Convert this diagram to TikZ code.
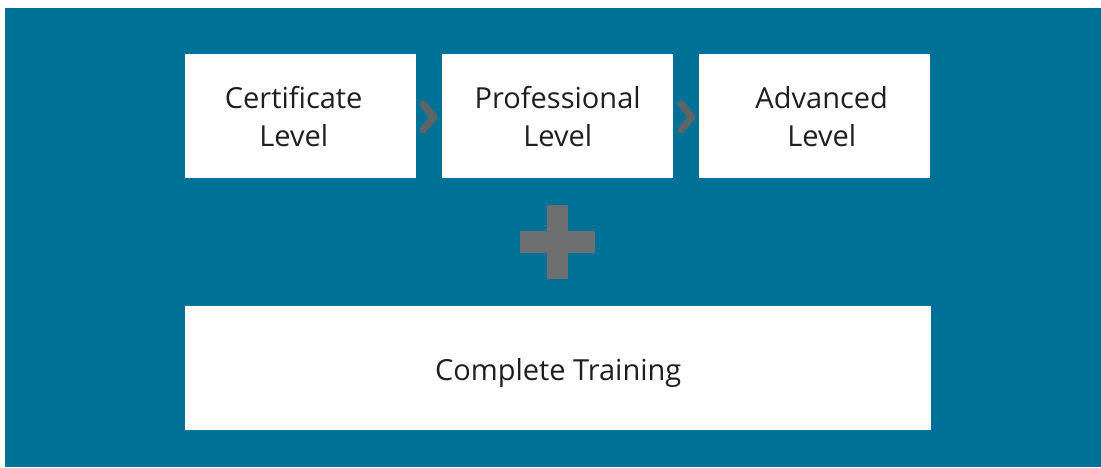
\documentclass[tikz,border=0pt]{standalone}
\usepackage{fontspec}
\setmainfont{Open Sans}
\definecolor{bgblue}{RGB}{0,113,150}
\definecolor{plusgray}{RGB}{109,110,112}
\definecolor{chevgray}{RGB}{95,100,100}
\begin{document}
\begin{tikzpicture}[x=1pt,y=-1pt,
  levelbox/.style={fill=white,draw=none,minimum width=231pt,minimum height=124pt,anchor=north west,inner sep=0pt},
  leveltext/.style={inner sep=0pt,align=center,font=\fontsize{29}{38}\selectfont,text=black!88},
  chev/.style={draw=chevgray,line width=7pt,line join=round,line cap=round}]
\useasboundingbox (0,0) rectangle (1101,467);
\fill[white] (0,0) rectangle (1101,467);
\fill[bgblue] (5,8) rectangle (1101,467);
\node[levelbox] (cert) at (185,54) {};
\node[levelbox] (prof) at (442,54) {};
\node[levelbox] (adv) at (699,54) {};
\node[levelbox,minimum width=746pt] (comp) at (185,306) {};
\node[leveltext] (certT) at ([xshift=-7pt]cert.center) {Certificate\\Level};
\node[leveltext] (profT) at (prof.center) {Professional\\Level};
\node[leveltext] (advT) at ([xshift=7pt]adv.center) {Advanced\\Level};
\node[leveltext] (compT) at ([yshift=-5pt]comp.center) {Complete Training};
\fill[plusgray] (520,231) rectangle (595,253);
\fill[plusgray] (547,205) rectangle (568,279);
\coordinate (c1a) at (423,104);
\coordinate (c1b) at (434,117);
\coordinate (c1c) at (423,130);
\draw[chev] (c1a) -- (c1b) -- (c1c);
\coordinate (c2a) at (681,104);
\coordinate (c2b) at (692,117);
\coordinate (c2c) at (681,130);
\draw[chev] (c2a) -- (c2b) -- (c2c);
\end{tikzpicture}
\end{document}
